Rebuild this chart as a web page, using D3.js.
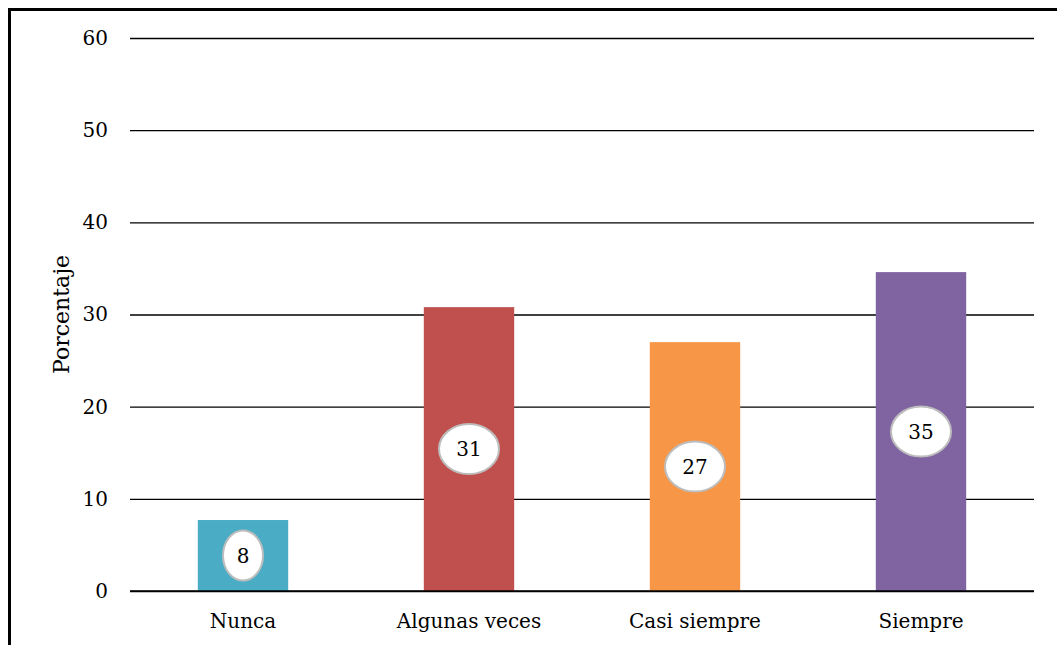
<!DOCTYPE html>
<html>
<head>
<meta charset="utf-8">
<script src="https://cdn.jsdelivr.net/npm/d3@7"></script>
<style>
  html, body { margin: 0; padding: 0; background: #fff; }
  svg { display: block; }
</style>
</head>
<body>
<svg id="chart" width="1057" height="645"></svg>
<script>
const categories = ["Nunca", "Algunas veces", "Casi siempre", "Siempre"];
const values = [7.7, 30.8, 27.0, 34.6];
const labels = ["8", "31", "27", "35"];
const colors = ["#4BACC6", "#C0504D", "#F79646", "#8064A2"];
const yTicks = [0, 10, 20, 30, 40, 50, 60];
const yTitle = "Porcentaje";

const W = 1057, H = 645;
const margin = { left: 130, right: 23, top: 38, bottom: 54 };
const svg = d3.select("#chart");
const font = "'DejaVu Serif', serif";

// frame (left + top borders)
svg.append("path")
  .attr("d", `M9.5,${H} L9.5,9.5 L${W},9.5`)
  .attr("fill", "none").attr("stroke", "#000").attr("stroke-width", 3);

const x = d3.scaleBand().domain(categories)
  .range([margin.left, W - margin.right]).paddingInner(0.6).paddingOuter(0.3);
const y = d3.scaleLinear().domain([0, 60]).range([H - margin.bottom, margin.top]);

// gridlines via axis
const grid = svg.append("g")
  .attr("transform", `translate(${margin.left},0)`)
  .call(d3.axisLeft(y).tickValues(yTicks).tickSize(-(W - margin.right - margin.left)).tickFormat(""));
grid.select(".domain").remove();
grid.selectAll(".tick line").attr("stroke", "#000").attr("stroke-width", 1.3);

// y tick labels
const yAxis = svg.append("g")
  .attr("transform", `translate(${margin.left},0)`)
  .call(d3.axisLeft(y).tickValues(yTicks).tickSize(0).tickPadding(22));
yAxis.select(".domain").remove();
yAxis.selectAll("text").attr("font-family", font).attr("font-size", 20).attr("fill", "#000");

// bars
svg.append("g").selectAll("rect").data(categories).join("rect")
  .attr("x", d => x(d))
  .attr("width", x.bandwidth())
  .attr("y", (d, i) => y(values[i]))
  .attr("height", (d, i) => y(0) - y(values[i]))
  .attr("fill", (d, i) => colors[i]);

// baseline redraw on top
svg.append("line")
  .attr("x1", margin.left).attr("x2", W - margin.right)
  .attr("y1", y(0)).attr("y2", y(0))
  .attr("stroke", "#000").attr("stroke-width", 1.3);

// x axis labels
const xAxis = svg.append("g")
  .attr("transform", `translate(0,${y(0)})`)
  .call(d3.axisBottom(x).tickSize(0).tickPadding(23));
xAxis.select(".domain").remove();
xAxis.selectAll("text").attr("font-family", font).attr("font-size", 20).attr("fill", "#000");

// data labels in ellipses
const lab = svg.append("g").selectAll("g").data(categories).join("g")
  .attr("transform", (d, i) => `translate(${x(d) + x.bandwidth() / 2},${(y(0) + y(values[i])) / 2})`);
lab.append("ellipse")
  .attr("rx", (d, i) => labels[i].length > 1 ? 30 : 20)
  .attr("ry", 25)
  .attr("fill", "#fff")
  .attr("stroke", "#bdbdbd").attr("stroke-width", 2);
lab.append("text")
  .attr("text-anchor", "middle").attr("dy", "0.35em")
  .attr("font-family", font).attr("font-size", 20).attr("fill", "#000")
  .text((d, i) => labels[i]);

// y title
svg.append("text")
  .attr("transform", `translate(69,${(y(0) + y(60)) / 2 + 0}) rotate(-90)`)
  .attr("text-anchor", "middle")
  .attr("font-family", font).attr("font-size", 22).attr("fill", "#000")
  .text(yTitle);
</script>
</body>
</html>
